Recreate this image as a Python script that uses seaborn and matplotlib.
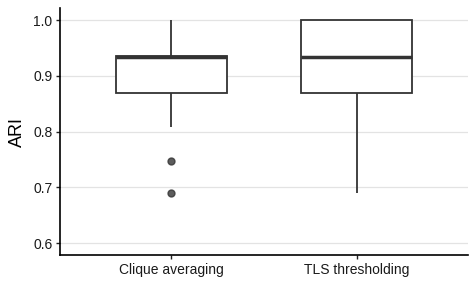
import matplotlib
matplotlib.use("Agg")
import matplotlib.pyplot as plt
import seaborn as sns
import pandas as pd

methods = ["Clique averaging", "TLS thresholding"]
clique_ari = [0.69, 0.747, 0.808, 0.87, 0.90, 0.933, 0.933, 0.933, 0.935, 0.935, 0.95, 0.97, 1.0]
tls_ari = [0.69, 0.80, 0.85, 0.87, 0.90, 0.933, 0.933, 0.933, 1.0, 1.0, 1.0, 1.0, 1.0]
yticks = [0.6, 0.7, 0.8, 0.9, 1.0]

df = pd.DataFrame({
    "method": [methods[0]] * len(clique_ari) + [methods[1]] * len(tls_ari),
    "ARI": clique_ari + tls_ari,
})

sns.set_style("white")
plt.rcParams["font.family"] = ["Liberation Sans", "DejaVu Sans"]

fig, ax = plt.subplots(figsize=(4.76, 2.86), dpi=100)
fig.subplots_adjust(left=0.126, right=0.983, top=0.972, bottom=0.108)

for y in yticks:
    ax.axhline(y, color="#E3E3E3", lw=0.9, zorder=0)

dark = "#333333"
sns.boxplot(
    data=df, x="method", y="ARI", order=methods, ax=ax, width=0.6,
    color="white", linecolor=dark, linewidth=1.3, fill=True,
    medianprops=dict(color=dark, linewidth=2.5),
    whiskerprops=dict(color=dark, linewidth=1.3),
    capprops=dict(linewidth=0),
    boxprops=dict(facecolor="white", edgecolor=dark, linewidth=1.3),
    flierprops=dict(marker="o", markersize=5, markerfacecolor=dark,
                    markeredgecolor=dark, alpha=0.8),
    zorder=2,
)

ax.set_xlim(-0.6, 1.6)
ax.set_ylim(0.5785, 1.0215)
ax.set_yticks(yticks)
ax.set_yticklabels([f"{v:.1f}" for v in yticks])
ax.set_xlabel("")
ax.set_ylabel("ARI", fontsize=13, color="black", labelpad=5)
ax.tick_params(axis="both", labelsize=10, colors="#222222", length=3, width=1.0,
               direction="out", left=True, bottom=True, pad=2.5)
ax.tick_params(axis="both", labelcolor="#1A1A1A")
for s in ["top", "right"]:
    ax.spines[s].set_visible(False)
for s in ["left", "bottom"]:
    ax.spines[s].set_color("black")
    ax.spines[s].set_linewidth(1.2)

fig.savefig("out.png", dpi=100)
